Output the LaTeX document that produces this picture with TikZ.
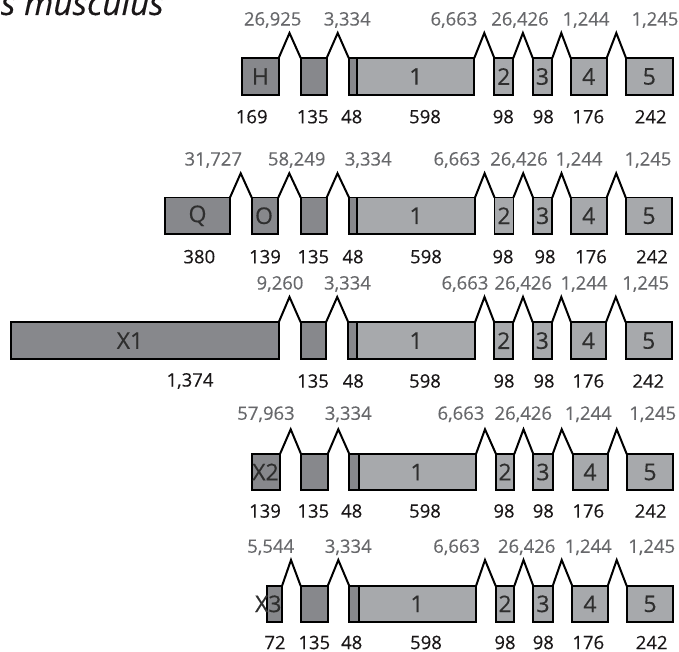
\documentclass[tikz,border=0pt]{standalone}
\usepackage{fontspec}
\newfontfamily\osans{Open Sans}[FakeBold=0.35]
\usetikzlibrary{fit}
\definecolor{darkfill}{HTML}{87888C}
\definecolor{lightfill}{HTML}{A7A9AC}
\definecolor{graytext}{HTML}{67686B}
\definecolor{blacktext}{HTML}{1A1718}
\definecolor{boxtext}{HTML}{2E2E2E}
\newcommand\exon[6]{\node[#2, fit={(#3,#5) (#4,#6)}] (#1) {};}
\newcommand\intr[5]{\coordinate (#3) at (#4,#5); \draw[intron] (#1.north east) -- (#3) -- (#2.north west);}
\newcommand\glab[4]{\node[gl] (#1) at (#2,#3) {#4};}
\newcommand\blab[4]{\node[bl] (#1) at (#2,#3) {#4};}
\newcommand\xlab[3]{\coordinate (#1X) at (#2,0); \node[xl] (#1T) at (#1.center -| #1X) {#3};}
\begin{document}
\begin{tikzpicture}[x=1pt,y=-1pt,
  exon/.style={draw=black, line width=1.7pt, inner sep=0pt, outer sep=0pt},
  dk/.style={exon, fill=darkfill},
  lt/.style={exon, fill=lightfill},
  intron/.style={draw=black, line width=2pt, line join=miter},
  gl/.style={font=\osans\fontsize{18.5}{20}\selectfont, text=graytext, inner sep=0pt},
  bl/.style={font=\osans\fontsize{18.5}{20}\selectfont, text=blacktext, inner sep=0pt},
  xl/.style={font=\osans\fontsize{23}{25}\selectfont, text=boxtext, inner sep=0pt},
  title/.style={font=\osans\itshape\fontsize{33.5}{36}\selectfont, text=blacktext, inner sep=0pt, anchor=base east}]
\useasboundingbox (0,0) rectangle (679,652);
\node[title] (ttl) at (164,15) {Mus musculus};

% ---------- Row 1 ----------
\exon{r1a}{dk}{242}{278.7}{58}{95}
\exon{r1b}{dk}{300.7}{326.7}{58}{95}
\exon{r1c}{dk}{348.7}{357.3}{58}{95}
\exon{r1d}{lt}{357.3}{474.3}{58}{95}
\exon{r1e}{lt}{494.3}{513.3}{58}{95}
\exon{r1f}{lt}{532.7}{552.3}{58}{95}
\exon{r1g}{lt}{570.7}{606.7}{58}{95}
\exon{r1h}{lt}{626}{672.7}{58}{95}
\xlab{r1a}{260.3}{H}
\xlab{r1d}{415.8}{1}
\xlab{r1e}{503.8}{2}
\xlab{r1f}{542.5}{3}
\xlab{r1g}{588.7}{4}
\xlab{r1h}{649.3}{5}
\intr{r1a}{r1b}{r1p1}{289.5}{33}
\intr{r1b}{r1c}{r1p2}{337.7}{33}
\intr{r1d}{r1e}{r1p3}{484.3}{33}
\intr{r1e}{r1f}{r1p4}{522.9}{33}
\intr{r1f}{r1g}{r1p5}{561.3}{33}
\intr{r1g}{r1h}{r1p6}{616.3}{33}
\glab{r1g1}{272.7}{20}{26,925}
\glab{r1g2}{347.3}{20}{3,334}
\glab{r1g3}{454}{20}{6,663}
\glab{r1g4}{520}{20}{26,426}
\glab{r1g5}{586}{20}{1,244}
\glab{r1g6}{655}{20}{1,245}
\blab{r1l1}{251.7}{116.7}{169}
\blab{r1l2}{312.7}{116.7}{135}
\blab{r1l3}{351.7}{116.7}{48}
\blab{r1l4}{425}{116.7}{598}
\blab{r1l5}{503.3}{116.7}{98}
\blab{r1l6}{543.3}{116.7}{98}
\blab{r1l7}{588.3}{116.7}{176}
\blab{r1l8}{650.7}{116.7}{242}

% ---------- Row 2 ----------
\exon{r2a}{dk}{165}{230}{197.5}{234}
\exon{r2b}{dk}{251.7}{278.3}{197.5}{234}
\exon{r2c}{dk}{300.7}{326.7}{197.5}{234}
\exon{r2d}{dk}{349}{357.3}{197.5}{234}
\exon{r2e}{lt}{357.3}{475}{197.5}{234}
\exon{r2f}{lt}{494.5}{513.4}{197.5}{234}
\exon{r2g}{lt}{533}{552.3}{197.5}{234}
\exon{r2h}{lt}{570.7}{606.7}{197.5}{234}
\exon{r2i}{lt}{625.7}{672.3}{197.5}{234}
\xlab{r2a}{197.5}{Q}
\xlab{r2b}{264}{O}
\xlab{r2e}{416}{1}
\xlab{r2f}{504}{2}
\xlab{r2g}{542.7}{3}
\xlab{r2h}{588.7}{4}
\xlab{r2i}{649}{5}
\intr{r2a}{r2b}{r2p1}{240.7}{173.3}
\intr{r2b}{r2c}{r2p2}{289.3}{173.3}
\intr{r2c}{r2d}{r2p3}{337.5}{173.3}
\intr{r2e}{r2f}{r2p4}{484.6}{173.3}
\intr{r2f}{r2g}{r2p5}{523.2}{173.3}
\intr{r2g}{r2h}{r2p6}{561.5}{173.3}
\intr{r2h}{r2i}{r2p7}{616.2}{173.3}
\glab{r2g1}{213.3}{160}{31,727}
\glab{r2g2}{296.7}{160}{58,249}
\glab{r2g3}{368.3}{160}{3,334}
\glab{r2g4}{457}{160}{6,663}
\glab{r2g5}{519}{160}{26,426}
\glab{r2g6}{579}{160}{1,244}
\glab{r2g7}{648}{160}{1,245}
\blab{r2l1}{199.3}{256.7}{380}
\blab{r2l2}{265}{256.7}{139}
\blab{r2l3}{313.3}{256.7}{135}
\blab{r2l4}{353}{256.7}{48}
\blab{r2l5}{426}{256.7}{598}
\blab{r2l6}{503}{256.7}{98}
\blab{r2l7}{545}{256.7}{98}
\blab{r2l8}{591}{256.7}{176}
\blab{r2l9}{652}{256.7}{242}

% ---------- Row 3 ----------
\exon{r3a}{dk}{11}{278.7}{322.3}{359}
\exon{r3b}{dk}{300.7}{326}{322.3}{359}
\exon{r3c}{dk}{348.3}{357.3}{322.3}{359}
\exon{r3d}{lt}{357.3}{475}{322.3}{359}
\exon{r3e}{lt}{494.3}{513.3}{322.3}{359}
\exon{r3f}{lt}{532.7}{552}{322.3}{359}
\exon{r3g}{lt}{571}{606}{322.3}{359}
\exon{r3h}{lt}{625.7}{671.7}{322.3}{359}
\xlab{r3a}{130}{X1}
\xlab{r3d}{416}{1}
\xlab{r3e}{503.8}{2}
\xlab{r3f}{542.3}{3}
\xlab{r3g}{588.5}{4}
\xlab{r3h}{648.7}{5}
\intr{r3a}{r3b}{r3p1}{289.5}{297}
\intr{r3b}{r3c}{r3p2}{337.2}{297}
\intr{r3d}{r3e}{r3p3}{484.5}{297}
\intr{r3e}{r3f}{r3p4}{523}{297}
\intr{r3f}{r3g}{r3p5}{561.3}{297}
\intr{r3g}{r3h}{r3p6}{615.8}{297}
\glab{r3g1}{280}{284}{9,260}
\glab{r3g2}{347.5}{284}{3,334}
\glab{r3g3}{465}{284}{6,663}
\glab{r3g4}{523.3}{284}{26,426}
\glab{r3g5}{584}{284}{1,244}
\glab{r3g6}{645.7}{284}{1,245}
\blab{r3l1}{190}{381}{1,374}
\blab{r3l2}{313}{381}{135}
\blab{r3l3}{353.3}{381}{48}
\blab{r3l4}{425}{381}{598}
\blab{r3l5}{504}{381}{98}
\blab{r3l6}{544}{381}{98}
\blab{r3l7}{588.3}{381}{176}
\blab{r3l8}{648.3}{381}{242}

% ---------- Row 4 ----------
\exon{r4a}{dk}{252.3}{280}{454}{490}
\exon{r4b}{dk}{301}{327.7}{454}{490}
\exon{r4c}{dk}{349.3}{358.7}{454}{490}
\exon{r4d}{lt}{358.7}{476}{454}{490}
\exon{r4e}{lt}{496}{514.3}{454}{490}
\exon{r4f}{lt}{533.3}{552.7}{454}{490}
\exon{r4g}{lt}{572.7}{607.7}{454}{490}
\exon{r4h}{lt}{626.7}{673.3}{454}{490}
\xlab{r4a}{265.5}{X2}
\xlab{r4d}{417}{1}
\xlab{r4e}{505}{2}
\xlab{r4f}{543}{3}
\xlab{r4g}{590}{4}
\xlab{r4h}{650}{5}
\intr{r4a}{r4b}{r4p1}{290.7}{429.3}
\intr{r4b}{r4c}{r4p2}{338.3}{429.3}
\intr{r4d}{r4e}{r4p3}{485}{429.3}
\intr{r4e}{r4f}{r4p4}{523.5}{429.3}
\intr{r4f}{r4g}{r4p5}{561.7}{429.3}
\intr{r4g}{r4h}{r4p6}{616.7}{429.3}
\glab{r4g1}{266}{414.3}{57,963}
\glab{r4g2}{348.3}{414.3}{3,334}
\glab{r4g3}{461}{414.3}{6,663}
\glab{r4g4}{523.3}{414.3}{26,426}
\glab{r4g5}{588.3}{414.3}{1,244}
\glab{r4g6}{652.7}{414.3}{1,245}
\blab{r4l1}{265}{511}{139}
\blab{r4l2}{313.3}{511}{135}
\blab{r4l3}{351.7}{511}{48}
\blab{r4l4}{425}{511}{598}
\blab{r4l5}{504}{511}{98}
\blab{r4l6}{543.3}{511}{98}
\blab{r4l7}{588.3}{511}{176}
\blab{r4l8}{650.7}{511}{242}

% ---------- Row 5 ----------
\exon{r5a}{dk}{266.7}{282}{586}{621.7}
\exon{r5b}{dk}{300.7}{327.7}{586}{621.7}
\exon{r5c}{dk}{349.3}{358.7}{586}{621.7}
\exon{r5d}{lt}{358.7}{476}{586}{621.7}
\exon{r5e}{lt}{495.7}{514.3}{586}{621.7}
\exon{r5f}{lt}{533.3}{552.7}{586}{621.7}
\exon{r5g}{lt}{572.3}{607.7}{586}{621.7}
\exon{r5h}{lt}{626.7}{673.3}{586}{621.7}
\xlab{r5a}{268.3}{X3}
\xlab{r5d}{417}{1}
\xlab{r5e}{505}{2}
\xlab{r5f}{543}{3}
\xlab{r5g}{590}{4}
\xlab{r5h}{650}{5}
\intr{r5a}{r5b}{r5p1}{291}{560}
\intr{r5b}{r5c}{r5p2}{338.3}{560}
\intr{r5d}{r5e}{r5p3}{485}{560}
\intr{r5e}{r5f}{r5p4}{523.5}{560}
\intr{r5f}{r5g}{r5p5}{561.7}{560}
\intr{r5g}{r5h}{r5p6}{616.7}{560}
\glab{r5g1}{270.7}{547.3}{5,544}
\glab{r5g2}{348.3}{547.3}{3,334}
\glab{r5g3}{456.7}{547.3}{6,663}
\glab{r5g4}{526.7}{547.3}{26,426}
\glab{r5g5}{588.3}{547.3}{1,244}
\glab{r5g6}{651.7}{547.3}{1,245}
\blab{r5l1}{275}{642.5}{72}
\blab{r5l2}{314.3}{642.5}{135}
\blab{r5l3}{351.7}{642.5}{48}
\blab{r5l4}{426}{642.5}{598}
\blab{r5l5}{505}{642.5}{98}
\blab{r5l6}{543.3}{642.5}{98}
\blab{r5l7}{588.3}{642.5}{176}
\blab{r5l8}{651.7}{642.5}{242}
\end{tikzpicture}
\end{document}
